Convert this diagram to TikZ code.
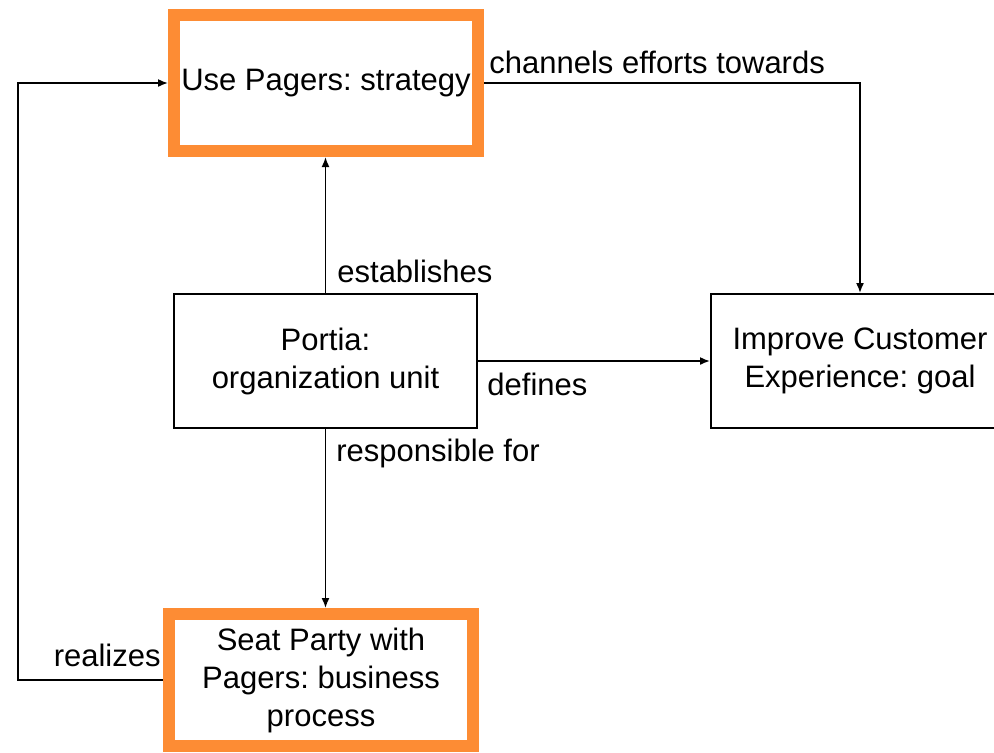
\documentclass[tikz,border=0pt]{standalone}
\usepackage{fontspec}
\setmainfont{Liberation Sans}
\usetikzlibrary{arrows.meta}
\definecolor{pagerorange}{RGB}{253,140,52}
\frenchspacing

\begin{document}
\begin{tikzpicture}[x=0.5pt, y=-0.5pt,
    every node/.style={font=\fontsize{15.5pt}{19pt}\selectfont},
    plainbox/.style={draw, line width=1pt, align=center,
      minimum width=151.5pt, minimum height=67pt},
    orangebox/.style={plainbox, draw=pagerorange, line width=6pt,
      minimum width=152pt},
    arr/.style={-{Latex[length=5pt,width=4pt]}, line width=0.8pt},
    lbl/.style={inner sep=0pt}]
  % --- frame of the page, the goal box runs off its right edge ---
  \useasboundingbox (0,0) rectangle (994,752);
  \clip (0,0) rectangle (994,752);
  % --- boxes ---
  \node[orangebox, minimum height=68pt] (pagers) at (326,83) {Use Pagers: strategy};
  \node[plainbox] (portia) at (325.5,361) {Portia:\\organization unit};
  \node[plainbox, minimum width=149pt] (goal) at (860,361)
    {Improve Customer\\Experience: goal};
  \node[orangebox, minimum height=66pt] (seat) at (321,680)
    {Seat Party with\\Pagers: business\\process};
  \coordinate (loopx) at (18,0);
  % --- connectors ---
  \draw[arr] (portia.north) -- (pagers.south -| portia.north);
  \draw[arr] (pagers.east) -| (goal.north);
  \draw[arr] (portia.east) -- (goal.west);
  \draw[arr] (portia.south) -- (seat.north -| portia.south);
  \draw[arr] (seat.west) -- (seat.west -| loopx) |- (pagers.west);
  % --- labels ---
  \node[lbl, anchor=west] (lchan) at (489,62) {channels efforts towards};
  \node[lbl, anchor=west] (lest) at (337,271) {establishes};
  \node[lbl, anchor=west] (ldef) at (487,384) {defines};
  \node[lbl, anchor=west] (lresp) at (336,453) {responsible for};
  \node[lbl, anchor=east] (lreal) at (161,655) {realizes};
\end{tikzpicture}
\end{document}
